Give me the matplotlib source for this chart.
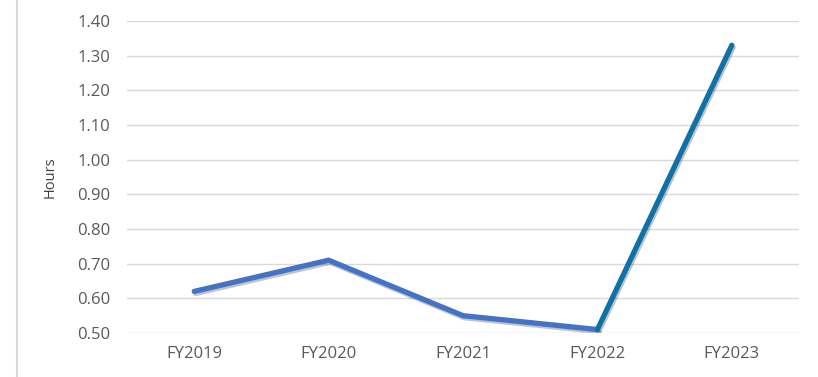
import matplotlib
matplotlib.use("Agg")
import matplotlib.pyplot as plt
import matplotlib.patheffects as pe
from matplotlib.lines import Line2D

years = ["FY2019", "FY2020", "FY2021", "FY2022", "FY2023"]
hours = [0.62, 0.71, 0.55, 0.51, 1.33]
y_ticks = [0.50, 0.60, 0.70, 0.80, 0.90, 1.00, 1.10, 1.20, 1.30, 1.40]

plt.rcParams['font.family'] = ['Open Sans', 'DejaVu Sans']

fig = plt.figure(figsize=(8.18, 3.77), dpi=100)
ax = fig.add_axes([0.1553, 0.1167, 0.9768 - 0.1553, 0.9443 - 0.1167])

x = list(range(len(years)))
shadow = [pe.SimpleLineShadow(offset=(1.0, -1.5), shadow_color='#555555', alpha=0.35), pe.Normal()]

ax.plot(x[:4], hours[:4], color='#4472C4', lw=3.8, solid_capstyle='round',
        solid_joinstyle='miter', path_effects=shadow, zorder=3)
ax.plot(x[3:], hours[3:], color='#0E72A8', lw=3.8, solid_capstyle='round',
        path_effects=shadow, zorder=4)

ax.set_xlim(-0.5, 4.5)
ax.set_ylim(0.50, 1.40)
ax.set_yticks(y_ticks)
ax.set_yticklabels([f"{v:.2f}" for v in y_ticks])
ax.set_xticks(x)
ax.set_xticklabels(years)
ax.tick_params(axis='both', length=0, labelsize=12, colors='#595959')
ax.tick_params(axis='y', pad=12)
ax.tick_params(axis='x', pad=9)
ax.grid(axis='y', color='#d9d9d9', lw=1.0)
ax.set_axisbelow(True)
for s in ax.spines.values():
    s.set_visible(False)

ax.set_ylabel("Hours", fontsize=10.5, color='#404040', labelpad=14)

fig.add_artist(Line2D([17 / 818, 17 / 818], [0, 1], transform=fig.transFigure,
                      color='#d9d9d9', lw=1.5))

fig.savefig("out.png", dpi=100)
